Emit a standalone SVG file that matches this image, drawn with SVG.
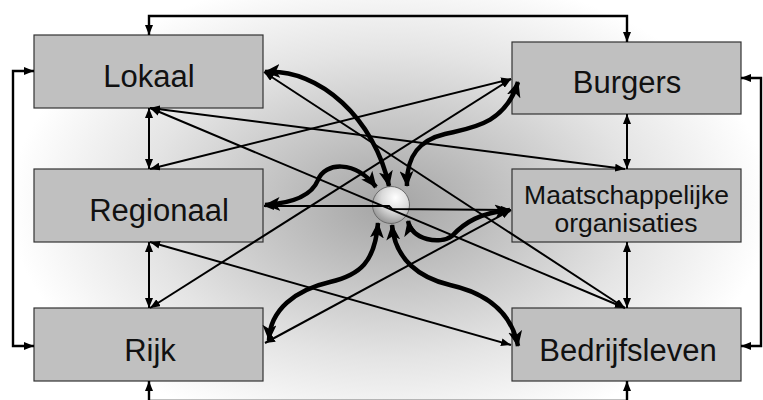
<svg xmlns="http://www.w3.org/2000/svg" width="763" height="400" viewBox="0 0 763 400">
<defs>
<radialGradient id="bg" gradientUnits="userSpaceOnUse" cx="390" cy="205" r="380" gradientTransform="translate(390 205) scale(1 0.62) translate(-390 -205)">
<stop offset="0" stop-color="#a4a4a4"/>
<stop offset="0.3" stop-color="#c2c2c2"/>
<stop offset="0.65" stop-color="#e4e4e4"/>
<stop offset="1" stop-color="#ffffff"/>
</radialGradient>
<radialGradient id="ball" cx="0.62" cy="0.32" r="0.75" fx="0.62" fy="0.3">
<stop offset="0" stop-color="#ffffff"/>
<stop offset="0.5" stop-color="#dadada"/>
<stop offset="1" stop-color="#8e8e8e"/>
</radialGradient>
<marker id="a" markerUnits="userSpaceOnUse" markerWidth="10" markerHeight="8" refX="10" refY="4" orient="auto-start-reverse" viewBox="0 0 10 8">
<path d="M0,0 L10,4 L0,8 z" fill="#000"/>
</marker>
<marker id="b" markerUnits="userSpaceOnUse" markerWidth="16" markerHeight="14" refX="15" refY="7" orient="auto-start-reverse" viewBox="0 0 16 14">
<path d="M0,0 L16,7 L0,14 L4,7 z" fill="#000"/>
</marker>
<style>
.box{fill:#c0c0c0;stroke:#333;stroke-width:1.2}
.lbl{font-family:"Liberation Sans",Arial,sans-serif;font-size:31px;fill:#111;text-anchor:middle}
.lbl2{font-family:"Liberation Sans",Arial,sans-serif;font-size:26.5px;fill:#111;text-anchor:middle}
.thin{fill:none;stroke:#000;stroke-width:2;marker-start:url(#a);marker-end:url(#a)}
.outer{fill:none;stroke:#000;stroke-width:2.4;marker-start:url(#a);marker-end:url(#a)}
.thick{fill:none;stroke:#000;stroke-width:4.5;marker-start:url(#b);marker-end:url(#b)}
</style>
</defs>
<rect x="0" y="0" width="763" height="400" fill="url(#bg)"/>

<g id="lokaal"><rect class="box" x="34" y="35" width="229" height="73"/><text class="lbl" x="149" y="87">Lokaal</text></g>
<g id="regionaal"><rect class="box" x="34" y="169" width="229" height="73"/><text class="lbl" x="159" y="221">Regionaal</text></g>
<g id="rijk"><rect class="box" x="34" y="308" width="229" height="73"/><text class="lbl" x="150" y="361">Rijk</text></g>
<g id="burgers"><rect class="box" x="512" y="42" width="229" height="72"/><text class="lbl" x="627" y="93">Burgers</text></g>
<g id="maatschappelijke-organisaties"><rect class="box" x="512" y="169" width="229" height="73"/><text class="lbl2" x="626.5" y="204">Maatschappelijke</text><text class="lbl2" x="626" y="232">organisaties</text></g>
<g id="bedrijfsleven"><rect class="box" x="512" y="308" width="229" height="73"/><text class="lbl" x="628" y="361">Bedrijfsleven</text></g>
<g id="centrum"><circle cx="391" cy="205" r="18.5" fill="url(#ball)" stroke="#6a6a6a" stroke-width="1"/></g>

<g id="connectors">
<path class="outer" d="M149,35 L149,16 L627,16 L627,42"/>
<path class="outer" d="M34,71 L13,71 L13,346 L34,346"/>
<path class="outer" d="M741,78 L761,78 L761,346 L741,346"/>
<path class="outer" d="M149,381 L149,401 L627,401 L627,381"/>
<path class="thin" d="M149,108 L149,169"/>
<path class="thin" d="M149,242 L149,308"/>
<path class="thin" d="M627,114 L627,169"/>
<path class="thin" d="M627,242 L627,308"/>
<path class="thin" d="M150,108 L625,169"/>
<path class="thin" d="M150,108 L625,308"/>
<path class="thin" d="M264,72 L625,308"/>
<path class="thin" d="M511,79 L150,169"/>
<path class="thin" d="M511,79 L150,308"/>
<path class="thin" d="M150,242 L511,345"/>
<path class="thin" d="M265,343 L511,210"/>
<path class="thin" d="M264,206 L389,206 L392,209 L511,210"/>
<path class="thick" d="M265,72 C320,68 375,120 389,186"/>
<path class="thick" d="M518,82 C505,125 470,128 445,134 C420,140 406,155 407,186"/>
<path class="thick" d="M265,205 C295,203 312,195 318,180 C325,162 355,160 376,187"/>
<path class="thick" d="M510,210 C480,213 465,222 452,236 C440,245 412,240 408,221"/>
<path class="thick" d="M269,340 C270,310 295,290 330,282 C360,275 375,262 378,223"/>
<path class="thick" d="M518,346 C512,315 490,294 450,285 C420,278 395,260 392,225"/>
</g>
</svg>
